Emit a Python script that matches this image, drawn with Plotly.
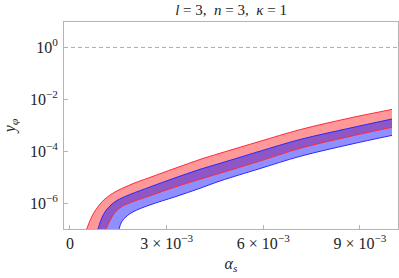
import plotly.graph_objects as go

# alpha_s values (in units of 1e-3) and log10(y_phi) for each band edge
red_upper_a = [0.518, 0.705, 0.900, 1.086, 1.397, 1.645, 2.017, 2.483, 3.259, 4.035, 4.655, 5.897, 7.138, 8.690, 9.994]
red_upper_logy = [-7.00, -6.45, -6.09, -5.84, -5.57, -5.42, -5.22, -5.01, -4.66, -4.32, -4.08, -3.62, -3.17, -2.72, -2.39]

blue_upper_a = [0.869, 1.034, 1.241, 1.459, 1.862, 2.483, 3.259, 4.035, 4.655, 5.897, 7.138, 8.690, 9.994]
blue_upper_logy = [-7.00, -6.45, -6.11, -5.90, -5.67, -5.38, -5.03, -4.70, -4.47, -4.00, -3.55, -3.11, -2.76]

red_lower_a = [1.117, 1.344, 1.552, 1.862, 2.483, 3.259, 4.035, 4.655, 5.897, 7.138, 8.690, 9.994]
red_lower_logy = [-7.00, -6.45, -6.18, -5.99, -5.72, -5.38, -5.08, -4.85, -4.38, -3.89, -3.43, -3.08]

blue_lower_a = [1.521, 1.605, 1.738, 1.955, 2.483, 3.259, 4.035, 4.655, 5.897, 7.138, 8.690, 9.994]
blue_lower_logy = [-7.00, -6.72, -6.53, -6.34, -6.07, -5.76, -5.43, -5.15, -4.67, -4.20, -3.74, -3.39]

x_tickvals = [0, 0.003, 0.006, 0.009]
x_ticktext = ["0", "3 × 10<sup>−3</sup>", "6 × 10<sup>−3</sup>", "9 × 10<sup>−3</sup>"]
y_tickvals = [1, 1e-2, 1e-4, 1e-6]
y_ticktext = ["10<sup>0</sup>", "10<sup>−2</sup>", "10<sup>−4</sup>", "10<sup>−6</sup>"]
ref_level = 1.0

x_range = [-0.000186, 0.01018]
y_range = [-7.0, 0.98]

def xs(a):
    return [v * 1e-3 for v in a]

def ys(l):
    return [10 ** v for v in l]

RED_FILL = "rgba(255,0,0,0.40)"
BLUE_FILL = "rgba(0,0,255,0.44)"
RED_LINE = "rgb(255,40,60)"
BLUE_LINE = "rgb(40,40,255)"

fig = go.Figure()
fig.add_trace(go.Scatter(x=xs(red_lower_a), y=ys(red_lower_logy), mode="lines",
                         line=dict(width=0, shape="spline"), showlegend=False, hoverinfo="skip"))
fig.add_trace(go.Scatter(x=xs(red_upper_a), y=ys(red_upper_logy), mode="lines",
                         line=dict(width=0, shape="spline"), fill="tonexty", fillcolor=RED_FILL,
                         showlegend=False, hoverinfo="skip"))
fig.add_trace(go.Scatter(x=xs(blue_lower_a), y=ys(blue_lower_logy), mode="lines",
                         line=dict(width=0, shape="spline"), showlegend=False, hoverinfo="skip"))
fig.add_trace(go.Scatter(x=xs(blue_upper_a), y=ys(blue_upper_logy), mode="lines",
                         line=dict(width=0, shape="spline"), fill="tonexty", fillcolor=BLUE_FILL,
                         showlegend=False, hoverinfo="skip"))
for a, l, c in [(red_upper_a, red_upper_logy, RED_LINE), (red_lower_a, red_lower_logy, RED_LINE),
                (blue_upper_a, blue_upper_logy, BLUE_LINE), (blue_lower_a, blue_lower_logy, BLUE_LINE)]:
    fig.add_trace(go.Scatter(x=xs(a), y=ys(l), mode="lines",
                             line=dict(width=1, color=c, shape="spline"), showlegend=False))
fig.add_trace(go.Scatter(x=x_range, y=[ref_level, ref_level], mode="lines",
                         line=dict(width=1, color="#aaaaaa", dash="4px,3px"), showlegend=False))

serif = "Liberation Serif"
TXT = "#1e1e1e"
fig.update_layout(
    width=399, height=278,
    margin=dict(l=64, r=1, t=22, b=49, autoexpand=False),
    paper_bgcolor="white", plot_bgcolor="white",
    font=dict(family=serif, size=16, color=TXT),
    title=dict(text="<i>l</i> = 3,  <i>n</i> = 3,  <i>κ</i> = 1",
               x=0.579, xanchor="center", y=0.966, yanchor="middle",
               font=dict(family=serif, size=15, color=TXT)),
)
fig.update_xaxes(range=x_range, showgrid=False, zeroline=False, automargin=False,
                 showline=True, mirror=True, linecolor="#b4b4b4", linewidth=1,
                 ticks="inside", ticklen=4, tickcolor="#b4b4b4",
                 tickvals=x_tickvals, ticktext=x_ticktext,
                 tickfont=dict(family=serif, size=16, color=TXT),
                 title=dict(text="<i>α</i><sub><i>s</i></sub>", standoff=6,
                            font=dict(family=serif, size=16, color=TXT)))
fig.update_yaxes(type="log", range=y_range, showgrid=False, zeroline=False, automargin=False,
                 showline=True, mirror=True, linecolor="#b4b4b4", linewidth=1,
                 ticks="inside", ticklen=4, tickcolor="#b4b4b4",
                 tickvals=y_tickvals, ticktext=y_ticktext, ticklabelstandoff=2,
                 tickfont=dict(family=serif, size=16, color=TXT),
                 title=dict(text="<i>y</i><sub><i>φ</i></sub>", standoff=10,
                            font=dict(family=serif, size=16, color=TXT)))

fig.write_html("out.html", config={"displayModeBar": False},
               post_script="document.body.style.margin = '0px';")
